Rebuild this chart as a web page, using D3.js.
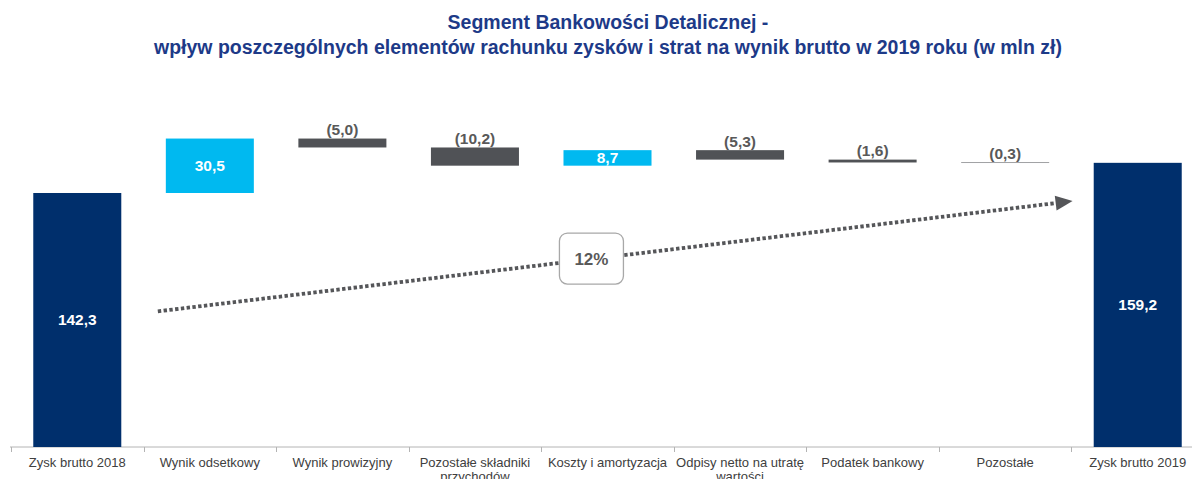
<!DOCTYPE html>
<html>
<head>
<meta charset="utf-8">
<script src="https://cdn.jsdelivr.net/npm/d3@7"></script>
<style>
  body { margin: 0; background: #fff; }
  text { font-family: "Liberation Sans", Arial, sans-serif; }
</style>
</head>
<body>
<svg id="chart" width="1192" height="479"></svg>
<script>
// data
const categories = ['Zysk brutto 2018', 'Wynik odsetkowy', 'Wynik prowizyjny', 'Pozostałe składniki przychodów',
  'Koszty i amortyzacja', 'Odpisy netto na utratę wartości', 'Podatek bankowy', 'Pozostałe', 'Zysk brutto 2019'];
const labelLines = [['Zysk brutto 2018'], ['Wynik odsetkowy'], ['Wynik prowizyjny'], ['Pozostałe składniki', 'przychodów'],
  ['Koszty i amortyzacja'], ['Odpisy netto na utratę', 'wartości'], ['Podatek bankowy'], ['Pozostałe'], ['Zysk brutto 2019']];
const values = [142.3, 30.5, -5.0, -10.2, 8.7, -5.3, -1.6, -0.3, 159.2];
const kinds = ['total', 'up', 'down', 'down', 'up', 'down', 'down', 'down', 'total'];
const titleLines = ['Segment Bankowości Detalicznej -',
  'wpływ poszczególnych elementów rachunku zysków i strat na wynik brutto w 2019 roku (w mln zł)'];

const svg = d3.select('#chart');
const W = 1192, H = 479;

// build waterfall steps
let run = 0;
const steps = values.map((v, i) => {
  let s, e;
  if (kinds[i] === 'total') { s = 0; e = v; run = v; }
  else { s = run; e = run + v; run = e; }
  return { cat: categories[i], v: v, kind: kinds[i], s: s, e: e, lines: labelLines[i] };
});

const x = d3.scaleBand().domain(categories).range([11, 1204]).paddingInner(0.336).paddingOuter(0.168);
const y = d3.scaleLinear().domain([0, 175]).range([447, 447 - 175 * 1.785]);
const color = d3.scaleOrdinal().domain(['total', 'up', 'down']).range(['#002f6c', '#00b9f0', '#505256']);

const fmt = v => {
  const t = Math.abs(v).toFixed(1).replace('.', ',');
  return v < 0 ? '(' + t + ')' : t;
};

// title
svg.append('g').selectAll('text').data(titleLines).join('text')
  .attr('x', 608).attr('y', (d, i) => 29 + i * 25)
  .attr('text-anchor', 'middle')
  .attr('font-size', 19.5).attr('font-weight', 'bold')
  .attr('fill', '#1d3a88')
  .text(d => d);

// axis
const axisY = y(0);
const gAxis = svg.append('g');
gAxis.append('line').attr('x1', 10).attr('x2', W).attr('y1', axisY).attr('y2', axisY)
  .attr('stroke', '#b4b4b4').attr('stroke-width', 1);
const bounds = categories.map(c => x(c) - x.step() * x.paddingInner() / 2);
gAxis.selectAll('.tick').data(bounds).join('line').attr('class', 'tick')
  .attr('x1', d => Math.round(d) + 0.5).attr('x2', d => Math.round(d) + 0.5)
  .attr('y1', axisY).attr('y2', axisY + 5)
  .attr('stroke', '#b4b4b4');

const lab = gAxis.selectAll('.lab').data(steps).join('text').attr('class', 'lab')
  .attr('text-anchor', 'middle').attr('font-size', 13).attr('fill', '#404040');
lab.each(function(d) {
  d3.select(this).selectAll('tspan').data(d.lines).join('tspan')
    .attr('x', x(d.cat) + x.bandwidth() / 2)
    .attr('y', (l, i) => 467 + i * 14)
    .text(l => l);
});

// trend arrow
const p0 = [x(categories[1]) - 8, y(76)];
const p1 = [x(categories[8]) - 40, y(136.5)];
const ang = Math.atan2(p1[1] - p0[1], p1[0] - p0[0]);
svg.append('line')
  .attr('x1', p0[0]).attr('y1', p0[1]).attr('x2', p1[0]).attr('y2', p1[1])
  .attr('stroke', '#555659').attr('stroke-width', 3.8).attr('stroke-dasharray', '3.4,2.4');
const tip = [p1[0] + 19 * Math.cos(ang), p1[1] + 19 * Math.sin(ang)];
const base = [p1[0] + 2 * Math.cos(ang), p1[1] + 2 * Math.sin(ang)];
const nx = -Math.sin(ang), ny = Math.cos(ang);
svg.append('path')
  .attr('d', d3.line()([tip, [base[0] + 7.5 * nx, base[1] + 7.5 * ny], [base[0] - 7.5 * nx, base[1] - 7.5 * ny]]) + 'Z')
  .attr('fill', '#555659');

const growth = Math.round((values[8] / values[0] - 1) * 100);
const t = 0.484;
const mid = [p0[0] + t * (p1[0] - p0[0]), p0[1] + t * (p1[1] - p0[1])];
svg.append('rect')
  .attr('x', mid[0] - 32).attr('y', mid[1] - 26).attr('width', 64).attr('height', 51)
  .attr('rx', 8).attr('fill', '#fff').attr('stroke', '#a8a8a8').attr('stroke-width', 1.3);
svg.append('text').attr('x', mid[0]).attr('y', mid[1] + 6)
  .attr('text-anchor', 'middle').attr('font-size', 17).attr('font-weight', 'bold').attr('fill', '#595959')
  .text(growth + '%');

// bars
svg.append('g').selectAll('rect').data(steps).join('rect')
  .attr('x', d => x(d.cat)).attr('width', x.bandwidth())
  .attr('y', d => y(Math.max(d.s, d.e)))
  .attr('height', d => Math.abs(y(d.s) - y(d.e)))
  .attr('fill', d => color(d.kind));

// value labels
svg.append('g').selectAll('text').data(steps).join('text')
  .attr('x', d => x(d.cat) + x.bandwidth() / 2)
  .attr('y', d => d.kind === 'down' ? y(Math.max(d.s, d.e)) - 3.5 : (y(d.s) + y(d.e)) / 2 + 5.5)
  .attr('text-anchor', 'middle')
  .attr('font-size', 15.5)
  .attr('font-weight', 'bold')
  .attr('fill', d => d.kind === 'down' ? '#595959' : '#fff')
  .text(d => fmt(d.v));
</script>
</body>
</html>
